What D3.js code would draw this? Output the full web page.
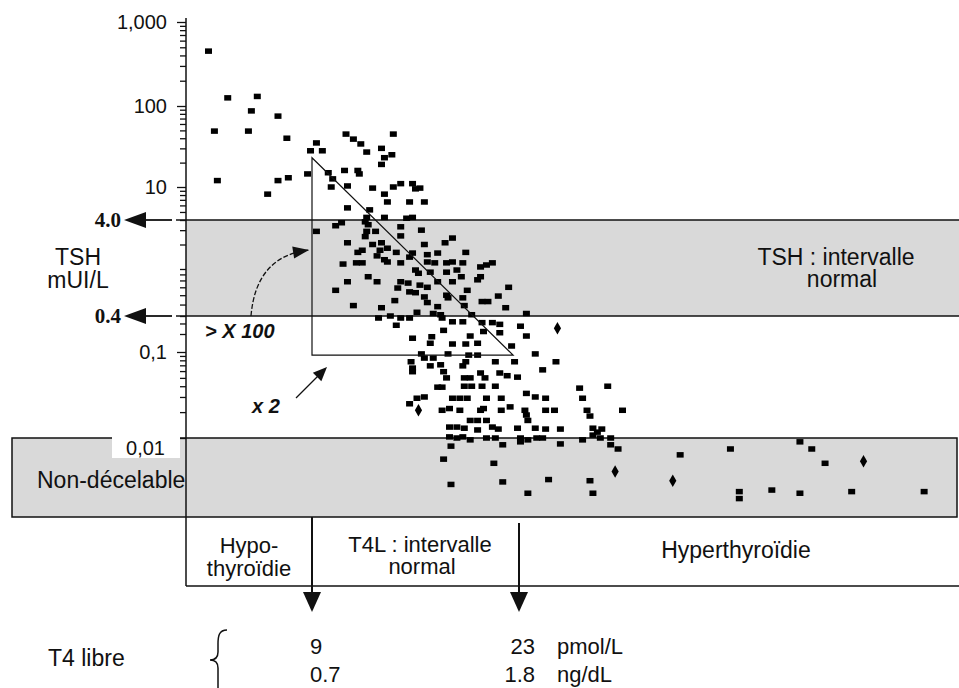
<!DOCTYPE html>
<html lang="fr">
<head>
<meta charset="utf-8">
<title>TSH vs T4 libre</title>
<script src="https://cdn.jsdelivr.net/npm/d3@7/dist/d3.min.js"></script>
<style>
  body { margin: 0; background: #fff; }
  svg { display: block; font-family: "Liberation Sans", Arial, sans-serif; }
</style>
</head>
<body>
<svg width="959" height="688"></svg>
<script>
// [T4 libre (pmol/L), TSH (mUI/L)]
const pointsHigh = [
  [2.0,450],[3.3,125],[5.3,130],[4.9,87],[6.7,75],[2.4,49],[4.7,49],[7.3,40],[2.6,12],[6.0,8.2],
  [6.7,12],[7.4,13],[8.7,14.5],[8.9,28],[9.3,35],[9.7,28],[11.3,45],[11.8,39],[12.3,34],[12.7,27],
  [13.7,30],[14.5,45],[13.9,23],[13.7,19],[14.4,25],[11.2,16],[12.1,16],[12.2,14.5],[10.1,15],[10.4,12.6],
  [10.3,10],[11.4,10.3],[13.1,9.7],[13.9,8.2],[14.5,10],[15.0,11],[15.8,11],[16.0,9.5],[16.3,9.7],[14.1,6.6],
  [15.6,6.6],[16.6,6.6],[11.4,5.6],[12.9,5.3],[12.7,4.3],[13.9,4.3],[15.4,4.2],[15.8,4.3]
];
const pointsNormal = [
  [11.0,3.7],[9.3,2.9],[10.6,3.4],[12.6,3.8],[12.8,3.5],[12.7,2.9],[13.3,2.9],[15.0,3.3],[16.4,3.0],[12.6,2.5],
  [15.0,2.55],[11.4,2.1],[13.1,2.0],[13.7,2.1],[16.6,2.0],[18.0,2.1],[18.5,2.4],[12.1,1.6],[12.4,1.7],[13.6,1.7],
  [14.1,1.8],[14.7,1.6],[15.8,1.57],[16.8,1.5],[17.5,1.57],[19.4,1.6],[11.1,1.15],[12.0,1.19],[12.4,1.19],[13.4,1.45],
  [13.9,1.3],[14.1,1.22],[15.0,1.19],[15.6,1.4],[16.8,1.22],[17.3,1.19],[18.1,1.19],[18.5,1.22],[19.2,1.19],[20.4,1.06],
  [21.2,1.19],[20.8,1.12],[11.4,0.78],[12.8,0.86],[13.4,0.78],[16.0,0.98],[16.2,0.92],[17.0,0.94],[18.1,0.94],[18.8,0.98],
  [19.1,0.86],[20.4,0.86],[20.2,0.81],[10.6,0.66],[15.0,0.78],[15.5,0.76],[14.8,0.69],[16.3,0.73],[16.8,0.70],[17.5,0.78],
  [18.5,0.78],[19.5,0.66],[22.3,0.70],[11.8,0.49],[13.7,0.47],[14.6,0.54],[15.6,0.64],[16.0,0.63],[16.6,0.58],[16.8,0.52],
  [18.1,0.60],[18.2,0.57],[19.2,0.57],[19.3,0.49],[20.5,0.53],[20.9,0.53],[21.6,0.59],[22.1,0.47],[23.5,0.42],[16.1,0.43],
  [17.5,0.48],[17.2,0.42],[17.7,0.41]
];
const pointsLow = [
  [13.5,0.37],[14.3,0.40],[15.0,0.37],[14.7,0.28],[15.6,0.37],[17.8,0.37],[18.5,0.32],[19.2,0.32],[19.8,0.41],[20.5,0.31],
  [21.2,0.31],[21.7,0.29],[23.1,0.27],[17.9,0.23],[20.6,0.22],[21.7,0.21],[23.5,0.185],[15.8,0.17],[17.1,0.18],[17.0,0.14],
  [18.5,0.136],[19.4,0.136],[19.7,0.185],[20.2,0.14],[22.5,0.126],[16.4,0.095],[16.6,0.085],[17.2,0.085],[18.2,0.095],[19.6,0.092],
  [20.2,0.092],[19.4,0.077],[19.2,0.069],[15.7,0.077],[15.8,0.065],[17.0,0.069],[17.7,0.071],[21.4,0.077],[22.7,0.077],[24.1,0.095],
  [25.5,0.077],[15.8,0.059],[17.9,0.059],[18.1,0.050],[19.3,0.050],[19.7,0.050],[20.4,0.057],[20.7,0.050],[21.7,0.057],[22.2,0.053],
  [22.9,0.051],[24.6,0.062],[17.5,0.039],[17.8,0.039],[19.3,0.040],[19.8,0.040],[20.5,0.040],[21.4,0.040],[27.1,0.038],[29.0,0.040],
  [15.6,0.025],[16.1,0.029],[16.6,0.030],[18.5,0.029],[19.0,0.029],[19.5,0.029],[20.8,0.029],[21.8,0.029],[23.5,0.033],[24.1,0.030],
  [24.8,0.029],[27.3,0.029],[17.8,0.021],[18.3,0.022],[19.0,0.021],[20.4,0.021],[20.6,0.022],[21.8,0.021],[22.4,0.023],[23.4,0.021],
  [23.5,0.0185],[24.8,0.021],[25.4,0.021],[27.6,0.021],[27.8,0.018],[30.0,0.021],[19.7,0.016],[20.2,0.016],[20.8,0.016],[23.6,0.016],
  [18.3,0.0134],[18.8,0.0134],[19.3,0.013],[20.2,0.0124],[21.2,0.0134],[21.6,0.0127],[22.9,0.013],[24.1,0.013],[24.8,0.0127],[25.8,0.0127],
  [28.0,0.013],[28.6,0.0127],[28.3,0.0117],[28.0,0.0108],[18.3,0.0103],[18.8,0.010],[19.2,0.0103],[19.7,0.0095],[20.8,0.010],[21.4,0.010],
  [23.1,0.010],[23.6,0.0095],[24.2,0.010],[24.6,0.010],[27.3,0.0095],[28.5,0.010],[29.2,0.010]
];
const pointsUndetectable = [
  [18.4,0.0080],[21.9,0.0083],[23.1,0.0090],[25.8,0.0085],[29.2,0.0083],[29.7,0.0074],[17.9,0.0056],[21.3,0.0050],[18.4,0.0028],[21.9,0.0030],
  [25.0,0.0032],[27.8,0.0031],[23.6,0.0022],[28.0,0.0022],[33.9,0.0063],[37.3,0.0074],[42.0,0.0090],[42.8,0.0074],[43.7,0.0050],[37.9,0.0023],
  [37.9,0.0019],[40.1,0.0024],[42.0,0.0022],[45.5,0.0023],[50.4,0.0023]
];
const pointsRound = [[25.6,0.25],[16.2,0.021],[29.5,0.0040],[33.4,0.0031],[46.3,0.0053]];

// reference limits
const t4Limits = [9, 23];          // pmol/L
const t4LimitsNg = ["0.7", "1.8"]; // ng/dL
const tshLimits = [0.4, 4];
const tshUndetectable = 0.01;
const tshBreaks = [0.001, 0.01, 0.1, 0.4, 1, 4, 10, 100, 1000];
const tickLabels = new Map([[1000, "1,000"], [100, "100"], [10, "10"], [0.1, "0,1"]]);

const svg = d3.select("svg");
const W = 959;
const axisX = 186;

// hand-drawn axis: decades are not quite even, so use a piecewise log scale
const x = d3.scaleLinear().domain(t4Limits).range([312, 519]);
const y = d3.scaleLog().domain(tshBreaks).range([522, 438, 352, 316, 269, 220, 187, 106, 22]);

const grey = "#d9d9d9", ink = "#111";

// TSH normal band
svg.append("rect").attr("x", axisX).attr("y", y(tshLimits[1]))
  .attr("width", W - axisX).attr("height", y(tshLimits[0]) - y(tshLimits[1])).attr("fill", grey);

// non-detectable band
svg.append("rect").attr("x", 12).attr("y", y(tshUndetectable))
  .attr("width", W - 14).attr("height", 517 - y(tshUndetectable))
  .attr("fill", grey).attr("stroke", ink).attr("stroke-width", 1.5);
svg.append("rect").attr("x", 112).attr("y", y(tshUndetectable) - 2)
  .attr("width", 68).attr("height", 22).attr("fill", "#fff");

// band borders
tshLimits.forEach(v => {
  svg.append("line").attr("x1", 176).attr("x2", W).attr("y1", y(v)).attr("y2", y(v))
    .attr("stroke", ink).attr("stroke-width", 1.5);
});

// bottom label box
svg.append("line").attr("x1", axisX).attr("x2", W).attr("y1", 586).attr("y2", 586)
  .attr("stroke", ink).attr("stroke-width", 1.5);
svg.append("line").attr("x1", axisX).attr("x2", axisX).attr("y1", 18).attr("y2", 586)
  .attr("stroke", ink).attr("stroke-width", 1.5);

// y axis ticks
const tickVals = [];
[0.01, 0.1, 1, 10, 100].forEach(b => d3.range(1, 10).forEach(m => tickVals.push(m * b)));
tickVals.push(1000);
const yAxis = d3.axisLeft(y).tickValues(tickVals).tickSize(7).tickPadding(12)
  .tickFormat(d => tickLabels.get(d) || "");
const gy = svg.append("g").attr("transform", "translate(" + axisX + ",0)").call(yAxis);
gy.select(".domain").remove();
gy.selectAll(".tick line").attr("stroke", ink).attr("stroke-width", 1.3)
  .attr("x2", d => tickLabels.has(d) ? -9 : -6);
gy.selectAll(".tick text").attr("fill", ink).style("font-size", "20px");

// points
const allSquares = pointsHigh.concat(pointsNormal, pointsLow, pointsUndetectable);
svg.append("g").selectAll("rect").data(allSquares).enter().append("rect")
  .attr("x", d => x(d[0]) - 3.5).attr("y", d => y(d[1]) - 2.75)
  .attr("width", 7).attr("height", 5.5).attr("fill", "#000");
svg.append("g").selectAll("path").data(pointsRound).enter().append("path")
  .attr("d", d3.symbol().type(d3.symbolDiamond).size(45))
  .attr("transform", d => "translate(" + x(d[0]) + "," + y(d[1]) + ")").attr("fill", "#000");

// triangle: TSH drops > x100 while T4L rises x2
svg.append("path")
  .attr("d", "M" + x(9) + "," + y(23) + "L" + x(9) + "," + y(0.092) + "L" + x(22.6) + "," + y(0.092) + "Z")
  .attr("fill", "none").attr("stroke", ink).attr("stroke-width", 1.2);

function arrowHead(tip, from, len, half) {
  const a = Math.atan2(tip[1] - from[1], tip[0] - from[0]);
  const bx = tip[0] - len * Math.cos(a), by = tip[1] - len * Math.sin(a);
  const px = -Math.sin(a) * half, py = Math.cos(a) * half;
  svg.append("path").attr("d", "M" + tip + "L" + [bx + px, by + py] + "L" + [bx - px, by - py] + "Z")
    .attr("fill", ink);
}

// curved arrow (> X 100)
const arcStart = [251, y(0.4)], arcCtrl = [256, 256], arcEnd = [309, 250];
svg.append("path").attr("d", "M" + arcStart + "Q" + arcCtrl + " " + arcEnd)
  .attr("fill", "none").attr("stroke", ink).attr("stroke-width", 1.3).attr("stroke-dasharray", "5,2");
arrowHead(arcEnd, [290, 253], 16, 6);

// straight arrow (x 2)
svg.append("line").attr("x1", 296).attr("y1", 398).attr("x2", 318).attr("y2", 376)
  .attr("stroke", ink).attr("stroke-width", 1.3);
arrowHead([327, 367], [296, 398], 14, 6);

// TSH limit arrows
tshLimits.forEach(v => {
  svg.append("line").attr("x1", 144).attr("x2", 172).attr("y1", y(v)).attr("y2", y(v))
    .attr("stroke", ink).attr("stroke-width", 1.8);
  arrowHead([124, y(v)], [172, y(v)], 22, 8);
});
svg.selectAll(".tshlim").data(tshLimits).enter().append("text")
  .attr("x", 121).attr("y", d => y(d)).attr("dy", "0.35em").attr("text-anchor", "end")
  .style("font-family", "'Liberation Serif', 'Times New Roman', serif")
  .style("font-weight", "bold").style("font-size", "21px").attr("fill", ink)
  .text(d => d.toFixed(1));

// T4L limit arrows
t4Limits.forEach((v, i) => {
  svg.append("line").attr("x1", x(v)).attr("x2", x(v)).attr("y1", i === 0 ? 517 : 523).attr("y2", 596)
    .attr("stroke", ink).attr("stroke-width", 2);
  arrowHead([x(v), 612], [x(v), 517], 20, 9);
});

// brace
svg.append("path")
  .attr("d", "M227,630 C219,630 218,636 218,644 L218,652 C218,658 215,660 210,660 C215,660 218,662 218,668 L218,690")
  .attr("fill", "none").attr("stroke", ink).attr("stroke-width", 1.5);

// labels
function label(txt, tx, ty, anchor, size, extra) {
  const t = svg.append("text").attr("x", tx).attr("y", ty).attr("text-anchor", anchor || "start")
    .style("font-size", (size || 23) + "px").attr("fill", ink).text(txt);
  if (extra) extra(t);
  return t;
}
const boldItalic = t => t.style("font-weight", "bold").style("font-style", "italic");

label("TSH", 78, 265, "middle");
label("mUI/L", 78, 288, "middle");
label("TSH : intervalle", 836, 265, "middle", 23);
label("normal", 842, 287, "middle", 23);
label("Non-décelable", 37, 488, "start", 23);
label("0,01", 165, 455, "end", 20);
label("> X 100", 205, 338, "start", 20, boldItalic);
label("x 2", 252, 413, "start", 20, boldItalic);
label("Hypo-", 249, 553, "middle", 22);
label("thyroïdie", 249, 576, "middle", 22);
label("T4L : intervalle", 420, 552, "middle", 22);
label("normal", 422, 574, "middle", 22);
label("Hyperthyroïdie", 736, 558, "middle");
label("T4 libre", 48, 666, "start");
label(String(t4Limits[0]), 310, 654, "start", 22);
label(t4LimitsNg[0], 310, 682, "start", 22);
label(String(t4Limits[1]), 535, 654, "end", 22);
label(t4LimitsNg[1], 535, 682, "end", 22);
label("pmol/L", 557, 654, "start", 22);
label("ng/dL", 557, 682, "start", 22);
</script>
</body>
</html>
